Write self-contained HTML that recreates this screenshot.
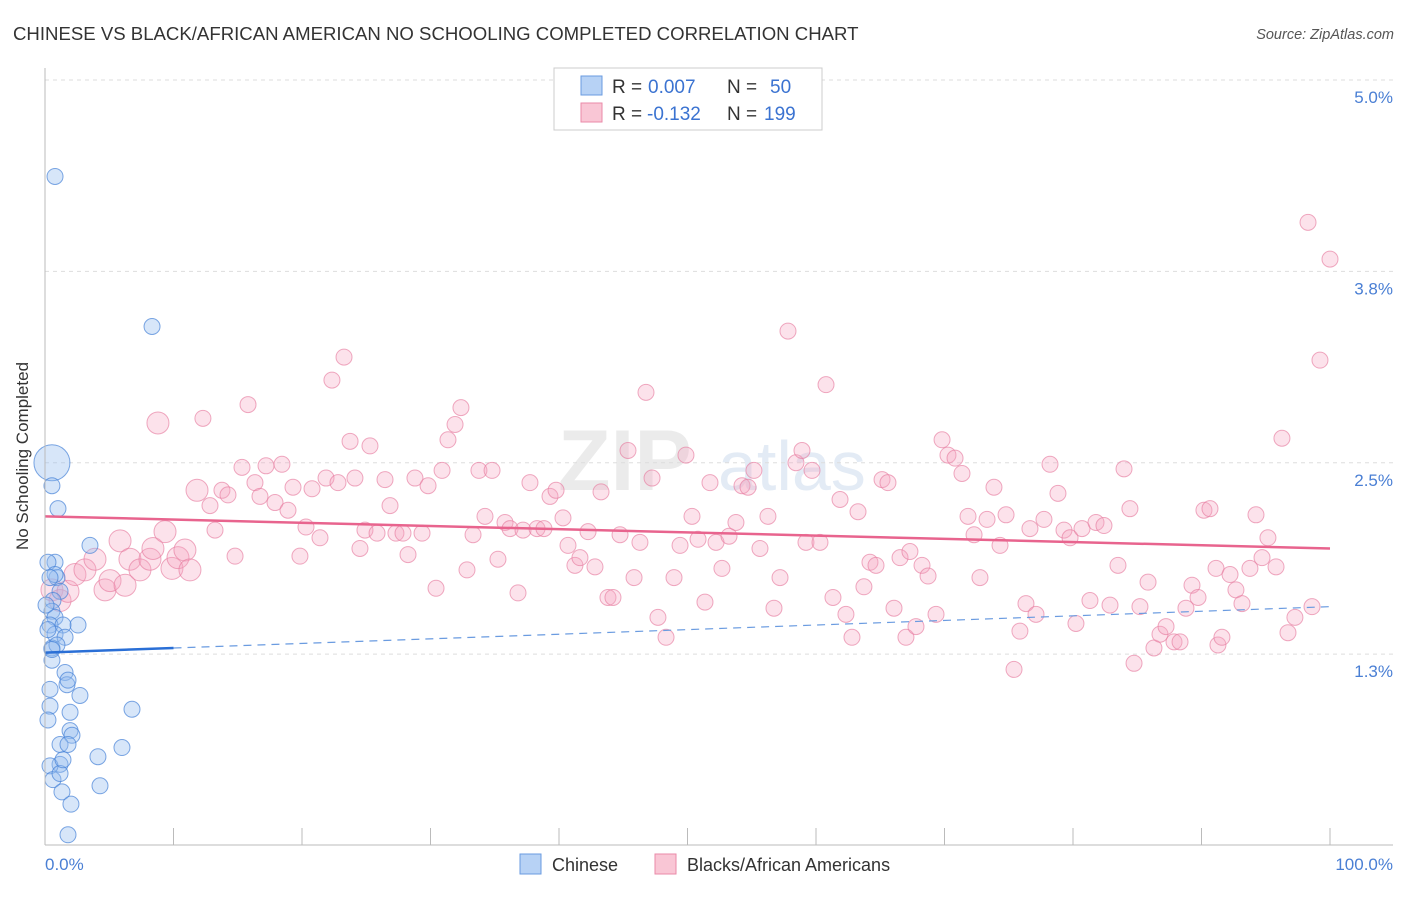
<!DOCTYPE html>
<html><head><meta charset="utf-8"><style>
body{margin:0;background:#fff;font-family:"Liberation Sans",sans-serif}
svg text{font-family:"Liberation Sans",sans-serif}
</style></head><body>
<svg id="c" width="1406" height="892" xmlns="http://www.w3.org/2000/svg">
<text x="13" y="40" font-size="18.6" fill="#333">CHINESE VS BLACK/AFRICAN AMERICAN NO SCHOOLING COMPLETED CORRELATION CHART</text>
<text x="1394" y="39" font-size="14.5" fill="#555" font-style="italic" text-anchor="end">Source: ZipAtlas.com</text>
<text x="558" y="490" font-size="86" fill="#ebebeb" font-family="Liberation Serif" font-weight="bold">ZIP</text>
<text x="718" y="490" font-size="70" fill="#e3ebf5">atlas</text>
<g id="grid"></g><g id="marks"></g>
<line x1="45" y1="68" x2="45" y2="845" stroke="#bbb"/>
<line x1="45" y1="845" x2="1393" y2="845" stroke="#bbb"/>
<text x="28" y="456" font-size="17" fill="#333" text-anchor="middle" transform="rotate(-90 28 456)">No Schooling Completed</text>
<text x="45" y="870" font-size="17" fill="#4a7fd4">0.0%</text>
<text x="1393" y="870" font-size="17" fill="#4a7fd4" text-anchor="end">100.0%</text>
<g>
<rect x="554" y="68" width="268" height="62" fill="#fff" stroke="#ccc"/>
<rect x="581" y="76" width="21" height="19" fill="#b7d2f5" stroke="#6a9be0"/>
<rect x="581" y="103" width="21" height="19" fill="#f9c6d5" stroke="#ea8aa8"/>
<text x="612" y="93" font-size="19" fill="#333">R =</text>
<text x="648" y="93" font-size="19" fill="#3b73d1">0.007</text>
<text x="727" y="93" font-size="19" fill="#333">N =</text>
<text x="770" y="93" font-size="19" fill="#3b73d1">50</text>
<text x="612" y="120" font-size="19" fill="#333">R =</text>
<text x="647" y="120" font-size="19" fill="#3b73d1">-0.132</text>
<text x="727" y="120" font-size="19" fill="#333">N =</text>
<text x="764" y="120" font-size="19" fill="#3b73d1">199</text>
</g>
<g>
<rect x="520" y="854" width="21" height="20" fill="#b7d2f5" stroke="#6a9be0"/>
<text x="552" y="871" font-size="18" fill="#333">Chinese</text>
<rect x="655" y="854" width="21" height="20" fill="#f9c6d5" stroke="#ea8aa8"/>
<text x="687" y="871" font-size="18" fill="#333">Blacks/African Americans</text>
</g>
</svg>
<script>
const yTicks=[1.25,2.5,3.75,5.0];
const yTickLabels=["1.3%","2.5%","3.8%","5.0%"];
const xTicks=[0,10,20,30,40,50,60,70,80,90,100];
const blueX=[0.54,0.78,8.33,1.01,0.54,3.50,0.78,0.93,1.17,0.62,0.54,0.78,0.39,2.57,1.40,0.78,1.56,0.54,0.54,0.39,1.56,1.71,2.72,0.39,1.95,6.77,1.95,2.10,1.17,1.79,5.99,4.12,1.17,0.39,0.62,1.17,1.32,4.28,2.02,1.79,0.23,0.78,0.39,0.08,0.23,0.93,0.54,1.79,0.23,1.40];
const blueY=[2.50,4.37,3.39,2.20,2.35,1.96,1.85,1.75,1.66,1.60,1.53,1.49,1.44,1.44,1.44,1.38,1.36,1.29,1.21,1.02,1.13,1.05,0.98,0.91,0.87,0.89,0.75,0.72,0.66,0.66,0.64,0.58,0.53,0.52,0.43,0.47,0.35,0.39,0.27,0.07,1.85,1.77,1.75,1.57,1.41,1.31,1.28,1.08,0.82,0.56];
const pinkX=[0.54,1.17,1.79,2.33,3.11,3.89,4.67,5.06,5.84,6.23,6.61,7.39,8.17,8.40,8.79,9.34,9.88,10.35,10.89,11.28,11.83,12.29,12.84,13.23,13.77,14.24,14.79,15.33,15.80,16.34,16.73,17.20,17.90,18.44,18.91,19.30,19.84,20.31,20.78,21.40,21.87,22.33,22.80,23.27,23.74,24.12,24.51,24.90,25.29,25.84,26.46,26.85,27.31,27.86,28.25,28.79,29.34,29.81,30.43,30.90,31.36,31.91,32.37,32.84,33.31,33.77,34.24,34.79,35.25,35.80,36.19,36.81,37.20,37.74,38.29,38.83,39.30,39.77,40.31,40.70,41.24,41.63,42.26,42.80,43.27,43.81,44.20,44.75,45.37,45.84,46.30,46.77,47.24,47.70,48.33,48.95,49.42,49.88,50.35,50.82,51.36,51.75,52.22,52.68,53.23,53.77,54.24,54.71,55.17,55.64,56.26,56.73,57.20,57.82,58.44,58.91,59.22,59.69,60.31,60.78,61.32,61.87,62.33,62.80,63.27,63.73,64.20,64.67,65.14,65.60,66.07,66.54,67.00,67.31,67.78,68.25,68.72,69.34,69.81,70.27,70.82,71.36,71.83,72.30,72.76,73.31,73.85,74.32,74.79,75.41,75.87,76.34,76.65,77.12,77.74,78.21,78.83,79.30,79.77,80.23,80.70,81.32,81.79,82.41,82.88,83.50,83.97,84.43,84.75,85.21,85.84,86.30,86.77,87.24,87.86,88.33,88.79,89.26,89.73,90.19,90.66,91.13,91.28,91.59,92.22,92.68,93.15,93.77,94.24,94.71,95.17,95.80,96.26,96.73,97.27,98.29,98.60,99.22,100];
const pinkY=[1.67,1.60,1.66,1.77,1.80,1.87,1.67,1.73,1.99,1.70,1.87,1.80,1.87,1.94,2.76,2.05,1.81,1.88,1.93,1.80,2.32,2.79,2.22,2.06,2.32,2.29,1.89,2.47,2.88,2.37,2.28,2.48,2.24,2.49,2.19,2.34,1.89,2.08,2.33,2.01,2.40,3.04,2.37,3.19,2.64,2.40,1.94,2.06,2.61,2.04,2.39,2.22,2.04,2.04,1.90,2.40,2.04,2.35,1.68,2.45,2.65,2.75,2.86,1.80,2.03,2.45,2.15,2.45,1.87,2.11,2.07,1.65,2.06,2.37,2.07,2.07,2.28,2.32,2.14,1.96,1.83,1.88,2.05,1.82,2.31,1.62,1.62,2.03,2.58,1.75,1.98,2.96,2.40,1.49,1.36,1.75,1.96,2.55,2.15,2.00,1.59,2.37,1.98,1.81,2.02,2.11,2.35,2.34,2.45,1.94,2.15,1.55,1.75,3.36,2.50,2.58,1.98,2.45,1.98,3.01,1.62,2.26,1.51,1.36,2.18,1.69,1.85,1.83,2.39,2.37,1.55,1.88,1.36,1.92,1.43,1.83,1.76,1.51,2.65,2.55,2.53,2.43,2.15,2.03,1.75,2.13,2.34,1.96,2.16,1.15,1.40,1.58,2.07,1.51,2.13,2.49,2.30,2.06,2.01,1.45,2.07,1.60,2.11,2.09,1.57,1.83,2.46,2.20,1.19,1.56,1.72,1.29,1.38,1.43,1.33,1.33,1.55,1.70,1.62,2.19,2.20,1.81,1.31,1.36,1.77,1.67,1.58,1.81,2.16,1.88,2.01,1.82,2.66,1.39,1.49,4.07,1.56,3.17,3.83];
const blueTrend=[1.26,1.56];
const pinkTrend=[2.15,1.94];
const NS='http://www.w3.org/2000/svg';
const sx=v=>45+v*12.85;
const sy=v=>845.5-v*153.1;
const grid=document.getElementById('grid'),marks=document.getElementById('marks');
function mk(tag,attrs,parent){const e=document.createElementNS(NS,tag);for(const k in attrs)e.setAttribute(k,attrs[k]);parent.appendChild(e);return e;}
yTicks.forEach((t,i)=>{
  const l=mk('line',{x1:45,x2:1393,y1:sy(t),y2:sy(t),stroke:'#ddd','stroke-dasharray':'4 4'},grid);
  
  
  const tx=mk('text',{x:1393,y:sy(t)+23,'font-size':17,fill:'#4a7fd4','text-anchor':'end'},grid);
  tx.textContent=yTickLabels[i];
  
  
});
xTicks.forEach(t=>{
  const l=mk('line',{x1:sx(t),x2:sx(t),y1:828,y2:845,stroke:'#bbb'},grid);
  
  
});
pinkX.forEach((x,i)=>{
  const c=mk('circle',{cx:sx(x),cy:sy(pinkY[i]),r:x<12?11:8,fill:'rgba(245,165,192,0.32)',stroke:'rgba(230,125,160,0.65)','stroke-width':1},marks);
  
  
});
blueX.forEach((x,i)=>{
  const c=mk('circle',{cx:sx(x),cy:sy(blueY[i]),r:i===0?18:8,fill:'rgba(150,190,240,0.38)',stroke:'rgba(70,130,215,0.7)','stroke-width':1},marks);
  
  
});
const pt=mk('line',{x1:sx(0),y1:sy(pinkTrend[0]),x2:sx(100),y2:sy(pinkTrend[1]),stroke:'#e8648e','stroke-width':2.5},marks);


const bInt=v=>blueTrend[0]+(blueTrend[1]-blueTrend[0])*v/100;
const bs=mk('line',{x1:sx(0),y1:sy(bInt(0)),x2:sx(10),y2:sy(bInt(10)),stroke:'#2a6fd6','stroke-width':2.5},marks);


const bd=mk('line',{x1:sx(10),y1:sy(bInt(10)),x2:sx(100),y2:sy(bInt(100)),stroke:'#6a9be0','stroke-width':1.2,'stroke-dasharray':'8 6'},marks);


</script>
</body></html>
